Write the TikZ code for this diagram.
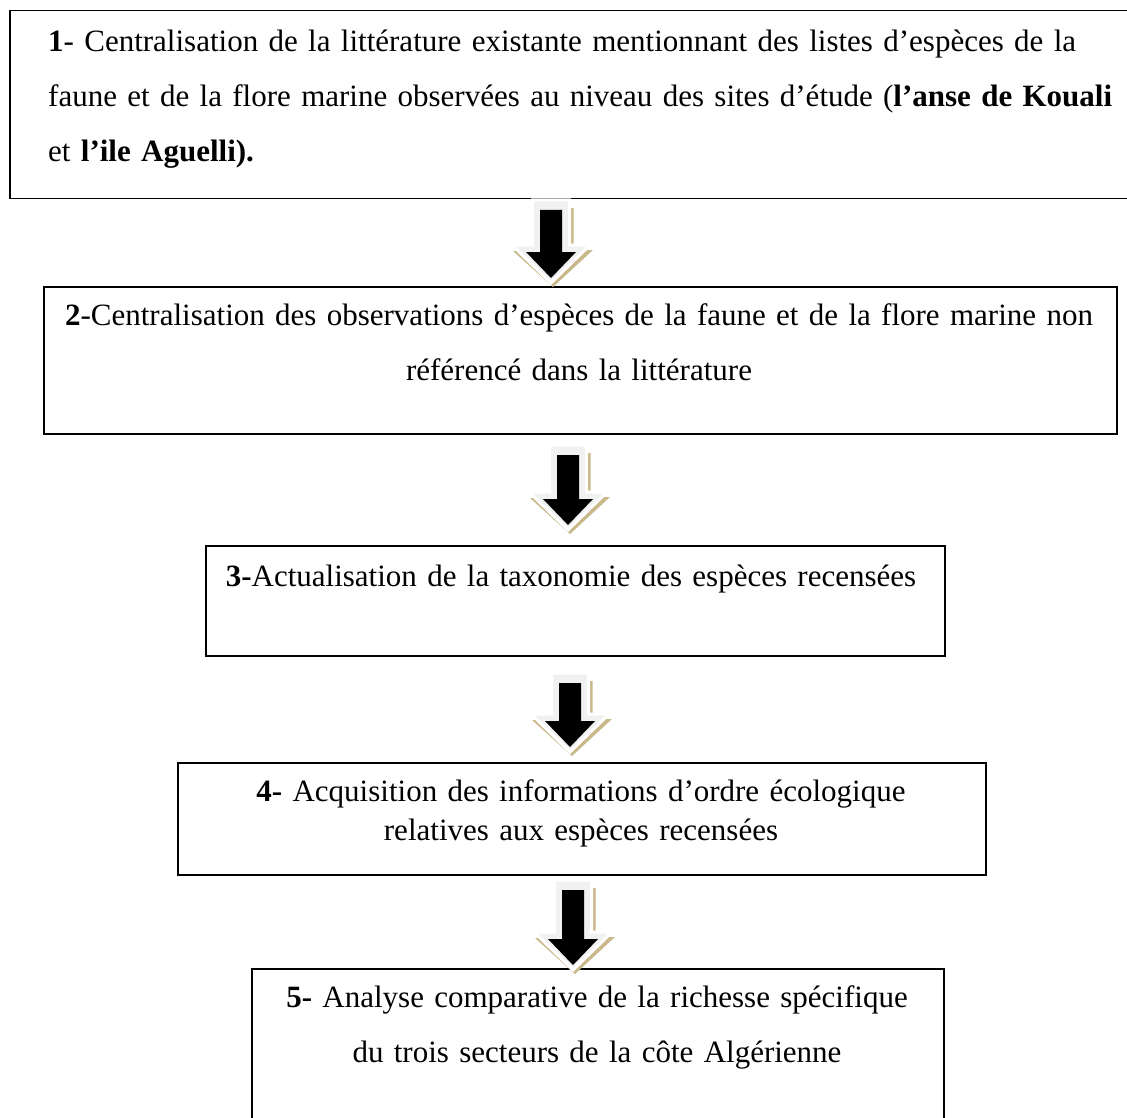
\documentclass[tikz,border=0pt]{standalone}
\usepackage{fontspec}
\setmainfont{Liberation Serif}
\usetikzlibrary{positioning}

\definecolor{arrowshade}{RGB}{200,184,138}
\definecolor{arrowbody}{RGB}{241,241,241}

\tikzset{
  stepbox/.style={draw, line width=1.5pt, inner sep=0pt, anchor=north west},
  steptext/.style={inner sep=0pt, anchor=base, align=center, font=\fontsize{31}{55}\selectfont},
}

% block arrow: #1 centre x, #2 top y, #3 tip y
\newcommand{\stepdown}[3]{%
  \fill[arrowshade] (#1-18.5,#2+8) -- (#1+22.5,#2+8) -- (#1+22.5,#3-33) -- (#1+42,#3-33)
    -- (#1+2,#3+4) -- (#1-38,#3-32) -- (#1-18.5,#3-32) -- cycle;
  \filldraw[fill=arrowbody, draw=white, line width=3pt] (#1-18.5,#2) -- (#1+18.5,#2) -- (#1+18.5,#3-38)
    -- (#1+39,#3-38) -- (#1,#3) -- (#1-39,#3-38) -- (#1-18.5,#3-38) -- cycle;
  \fill[black] (#1-11,#2+10) -- (#1+11,#2+10) -- (#1+11,#3-31) -- (#1+25,#3-31)
    -- (#1,#3-5) -- (#1-25,#3-31) -- (#1-11,#3-31) -- cycle;
}

\begin{document}
\begin{tikzpicture}[x=1pt, y=-1pt]
    \useasboundingbox (0,0) rectangle (1127,1118);
    \clip (0,0) rectangle (1127,1118);

    % Boxes
    \node[stepbox, minimum width=1130, minimum height=188] (b1) at (9,10) {};
    \node[stepbox, minimum width=1073, minimum height=147] (b2) at (43,286) {};
    \node[stepbox, minimum width=739, minimum height=110] (b3) at (205,545) {};
    \node[stepbox, minimum width=808, minimum height=112] (b4) at (177,762) {};
    \node[stepbox, minimum width=692, minimum height=170] (b5) at (251,968) {};

    % Texts
    \node[steptext, anchor=base west, align=left, text width=1080] (t1) at (48,52)
      {\textbf{1}- Centralisation de la littérature existante mentionnant des listes d’espèces de la\\
       faune et de la flore marine observées au niveau des sites d’étude (\textbf{l’anse de Kouali}\\
       et \textbf{l’ile Aguelli).}};
    \node[steptext, text width=1073] (t2) at (579,325)
      {\textbf{2}-Centralisation des observations d’espèces de la faune et de la flore marine non\\
       référencé dans la littérature};
    \node[steptext, text width=739] (t3) at (571,586)
      {\textbf{3-}Actualisation de la taxonomie des espèces recensées};
    \node[steptext, text width=808, font=\fontsize{31}{39}\selectfont] (t4) at (581,801)
      {\textbf{4-} Acquisition des informations d’ordre écologique\\
       relatives aux espèces recensées};
    \node[steptext, text width=692] (t5) at (597,1007)
      {\textbf{5-} Analyse comparative de la richesse spécifique\\
       du trois secteurs de la côte Algérienne};

    % Arrows
    \stepdown{551}{200}{283}
    \stepdown{568}{445}{530}
    \stepdown{570}{673}{752}
    \stepdown{573}{880}{970}
\end{tikzpicture}
\end{document}
